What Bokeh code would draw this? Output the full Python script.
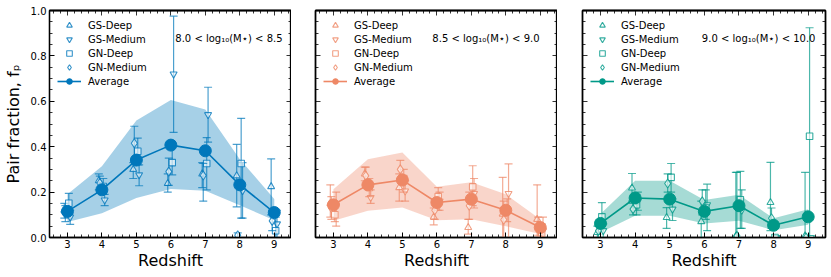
import numpy as np
from bokeh.plotting import figure
from bokeh.models import (LinearAxis, SingleIntervalTicker, FixedTicker, Range1d, Legend,
                          LegendItem, Label, PrintfTickFormatter)
from bokeh.layouts import row
from bokeh.embed import file_html
from bokeh.resources import INLINE

# ---------------- data ----------------
redshift = [3, 4, 5, 6, 7, 8, 9]
surveys = ["GS-Deep", "GS-Medium", "GN-Deep", "GN-Medium"]
mass_bins = ["8.0 < log₁₀(M⋆) < 8.5", "8.5 < log₁₀(M⋆) < 9.0", "9.0 < log₁₀(M⋆) < 10.0"]
colors = ["#0077BB", "#EE8866", "#009988"]

# panel 1 : 8.0 - 8.5
p1_avg = [0.115, 0.21, 0.341, 0.407, 0.382, 0.232, 0.11]
p1_hi = [0.19, 0.314, 0.515, 0.606, 0.564, 0.345, 0.17]
p1_lo = [0.068, 0.107, 0.174, 0.214, 0.206, 0.142, 0.076]
p1_gsd = [0.12, 0.25, 0.30, 0.238, 0.28, 0.272, 0.224]
p1_gsd_lo = [0.085, 0.21, 0.26, 0.20, 0.22, 0.135, 0.10]
p1_gsd_hi = [0.15, 0.28, 0.33, 0.28, 0.33, 0.41, 0.346]
p1_gsm = [0.09, 0.165, 0.276, 0.72, 0.541, 0.206, 0.06]
p1_gsm_lo = [0.058, 0.14, 0.228, 0.463, 0.42, 0.085, 0.0]
p1_gsm_hi = [0.12, 0.19, 0.32, 0.975, 0.662, 0.33, 0.12]
p1_gnd = [0.151, 0.225, 0.38, 0.33, 0.326, 0.326, 0.03]
p1_gnd_lo = [0.11, 0.19, 0.32, 0.276, 0.21, 0.085, 0.0]
p1_gnd_hi = [0.194, 0.26, 0.438, 0.397, 0.44, 0.525, 0.09]
p1_gnm = [0.107, 0.24, 0.415, 0.29, 0.273, 0.01, 0.073]
p1_gnm_lo = [0.07, 0.20, 0.34, 0.23, 0.16, 0.0, 0.03]
p1_gnm_hi = [0.14, 0.27, 0.49, 0.35, 0.326, 0.02, 0.12]

# panel 2 : 8.5 - 9.0
p2_avg = [0.144, 0.232, 0.253, 0.154, 0.169, 0.12, 0.044]
p2_hi = [0.213, 0.345, 0.375, 0.224, 0.243, 0.19, 0.08]
p2_lo = [0.074, 0.118, 0.132, 0.076, 0.08, 0.05, 0.015]
p2_gsd = [0.15, 0.28, 0.22, 0.09, 0.044, 0.103, 0.08]
p2_gsd_lo = [0.09, 0.25, 0.16, 0.056, 0.015, 0.0, 0.0]
p2_gsd_hi = [0.232, 0.31, 0.28, 0.13, 0.08, 0.265, 0.232]
p2_gsm = [0.14, 0.176, 0.205, 0.16, 0.194, 0.194, 0.03]
p2_gsm_lo = [0.05, 0.15, 0.16, 0.12, 0.13, 0.0, 0.0]
p2_gsm_hi = [0.20, 0.21, 0.25, 0.20, 0.26, 0.324, 0.09]
p2_gnd = [0.10, 0.22, 0.26, 0.18, 0.223, 0.12, 0.02]
p2_gnd_lo = [0.07, 0.18, 0.20, 0.12, 0.14, 0.07, 0.0]
p2_gnd_hi = [0.14, 0.26, 0.30, 0.22, 0.316, 0.17, 0.06]
p2_gnm = [0.13, 0.272, 0.30, 0.12, 0.14, 0.078, 0.05]
p2_gnm_lo = [0.08, 0.23, 0.26, 0.08, 0.08, 0.0, 0.01]
p2_gnm_hi = [0.18, 0.31, 0.34, 0.16, 0.20, 0.16, 0.09]

# panel 3 : 9.0 - 10.0
p3_avg = [0.062, 0.174, 0.169, 0.115, 0.14, 0.054, 0.091]
p3_hi = [0.103, 0.25, 0.25, 0.165, 0.188, 0.085, 0.125]
p3_lo = [0.022, 0.096, 0.096, 0.062, 0.074, 0.032, 0.056]
p3_gsd = [0.022, 0.218, 0.088, 0.07, 0.005, 0.154, 0.007]
p3_gsd_lo = [0.0, 0.16, 0.04, 0.0, 0.0, 0.03, 0.0]
p3_gsd_hi = [0.05, 0.282, 0.132, 0.16, 0.287, 0.331, 0.287]
p3_gsm = [0.03, 0.16, 0.125, 0.144, 0.12, 0.0, 0.0]
p3_gsm_lo = [0.0, 0.12, 0.075, 0.03, 0.04, 0.0, 0.0]
p3_gsm_hi = [0.06, 0.20, 0.17, 0.235, 0.21, 0.0, 0.0]
p3_gnd = [0.091, 0.144, 0.265, 0.13, 0.166, 0.0, 0.446]
p3_gnd_lo = [0.05, 0.10, 0.20, 0.08, 0.04, 0.0, 0.0]
p3_gnd_hi = [0.154, 0.19, 0.326, 0.21, 0.291, 0.0, 0.924]
p3_gnm = [0.03, 0.125, 0.238, 0.159, 0.007, 0.085, 0.0]
p3_gnm_lo = [0.0, 0.10, 0.20, 0.10, 0.0, 0.04, 0.0]
p3_gnm_hi = [0.05, 0.15, 0.28, 0.21, 0.287, 0.13, 0.0]

panels = [
    dict(avg=p1_avg, hi=p1_hi, lo=p1_lo,
         pts=[(p1_gsd, p1_gsd_lo, p1_gsd_hi), (p1_gsm, p1_gsm_lo, p1_gsm_hi),
              (p1_gnd, p1_gnd_lo, p1_gnd_hi), (p1_gnm, p1_gnm_lo, p1_gnm_hi)]),
    dict(avg=p2_avg, hi=p2_hi, lo=p2_lo,
         pts=[(p2_gsd, p2_gsd_lo, p2_gsd_hi), (p2_gsm, p2_gsm_lo, p2_gsm_hi),
              (p2_gnd, p2_gnd_lo, p2_gnd_hi), (p2_gnm, p2_gnm_lo, p2_gnm_hi)]),
    dict(avg=p3_avg, hi=p3_hi, lo=p3_lo,
         pts=[(p3_gsd, p3_gsd_lo, p3_gsd_hi), (p3_gsm, p3_gsm_lo, p3_gsm_hi),
              (p3_gnd, p3_gnd_lo, p3_gnd_hi), (p3_gnm, p3_gnm_lo, p3_gnm_hi)]),
]

# ---------------- style ----------------
FONT = "DejaVu Sans"
markers = ["triangle", "inverted_triangle", "square", "diamond"]
msizes = [7, 7, 6.5, 9]
x_offsets = [-0.09, 0.08, 0.04, -0.06]
label_x = [9.24, 8.98, 9.21]
XR = (2.48, 9.5)

widths = [291, 266, 273]
borders_left = [49, 24, 25]
borders_right = [0, 0, 5]
H = 276

x_major = [float(v) for v in range(3, 10)]
x_minor = [round(v, 2) for v in np.arange(2.6, 9.45, 0.2) if abs(v - round(v)) > 1e-6]
y_major = [round(v, 2) for v in np.arange(0, 1.001, 0.2)]
y_minor = [round(v, 2) for v in np.arange(0.05, 1.0, 0.05) if round(v, 2) not in y_major]


def base_style(ax):
    ax.axis_line_width = 1.3
    ax.axis_line_color = "black"
    ax.major_tick_line_color = "black"
    ax.minor_tick_line_color = "black"
    ax.major_tick_line_width = 1
    ax.minor_tick_line_width = 0.8
    ax.major_tick_in = 5
    ax.major_tick_out = 0
    ax.minor_tick_in = 3
    ax.minor_tick_out = 0


def label_axis(ax, xaxis):
    base_style(ax)
    ax.ticker = SingleIntervalTicker(interval=1, num_minor_ticks=5) if xaxis else \
        SingleIntervalTicker(interval=0.2, num_minor_ticks=4)
    if not xaxis:
        ax.formatter = PrintfTickFormatter(format="%.1f")
    ax.major_label_text_font = FONT
    ax.major_label_text_color = "black"
    ax.major_label_text_font_size = "10px"
    ax.major_label_standoff = 3 if not xaxis else 2


def tick_axis(positions, length):
    ax = LinearAxis(ticker=FixedTicker(ticks=[], minor_ticks=positions))
    base_style(ax)
    ax.minor_tick_in = length
    ax.major_label_standoff = 0
    return ax


figs = []
for i, pan in enumerate(panels):
    c = colors[i]
    p = figure(width=widths[i], height=H, output_backend="svg", toolbar_location=None,
               x_range=Range1d(*XR), y_range=Range1d(0, 1),
               y_axis_location="left" if i == 0 else None,
               min_border_left=borders_left[i], min_border_right=borders_right[i],
               min_border_top=10, min_border_bottom=39)
    p.grid.visible = False
    p.outline_line_color = "black"
    p.outline_line_width = 1.3
    p.background_fill_color = "white"
    p.border_fill_color = "white"

    label_axis(p.xaxis[0], True)
    p.xaxis.axis_label = "Redshift"
    p.xaxis.axis_label_text_font = FONT
    p.xaxis.axis_label_text_font_size = "16px"
    p.xaxis.axis_label_text_font_style = "normal"
    p.xaxis.axis_label_text_color = "black"
    p.xaxis.axis_label_standoff = 0
    if i == 0:
        label_axis(p.yaxis[0], False)
        p.yaxis.axis_label = "Pair fraction, fₚ"
        p.yaxis.axis_label_text_font = FONT
        p.yaxis.axis_label_text_font_size = "16px"
        p.yaxis.axis_label_text_font_style = "normal"
        p.yaxis.axis_label_text_color = "black"
        p.yaxis.axis_label_standoff = 5
    else:
        p.add_layout(tick_axis(y_major, 5), "left")
        p.add_layout(tick_axis(y_minor, 3), "left")
    p.add_layout(tick_axis(x_major, 5), "above")
    p.add_layout(tick_axis(x_minor, 3), "above")
    p.add_layout(tick_axis(y_major, 5), "right")
    p.add_layout(tick_axis(y_minor, 3), "right")

    # band
    p.varea(x=redshift, y1=pan["lo"], y2=pan["hi"], fill_color=c, fill_alpha=0.35)

    items = []
    for k, (vals, los, his) in enumerate(pan["pts"]):
        xs = [z + x_offsets[k] for z in redshift]
        p.segment(x0=xs, y0=los, x1=xs, y1=his, line_color=c, line_width=1.2, line_alpha=0.7)
        p.scatter(x=xs, y=los, marker="dash", size=8, line_color=c, line_width=1.2, line_alpha=0.7)
        p.scatter(x=xs, y=his, marker="dash", size=8, line_color=c, line_width=1.2, line_alpha=0.7)
        r = p.scatter(x=xs, y=vals, marker=markers[k], size=msizes[k], line_color=c,
                      line_width=1.1, line_alpha=0.8, fill_color="white", fill_alpha=0.6)
        items.append(LegendItem(label=surveys[k], renderers=[r]))

    ln = p.line(x=redshift, y=pan["avg"], line_color=c, line_width=1.6)
    mk = p.scatter(x=redshift, y=pan["avg"], marker="circle", size=12, fill_color=c, line_color=c)
    items.append(LegendItem(label="Average", renderers=[ln, mk]))

    leg = Legend(items=items, location="top_left")
    leg.border_line_alpha = 0
    leg.background_fill_alpha = 0
    leg.label_text_font = FONT
    leg.label_text_font_size = "10px"
    leg.label_text_color = "black"
    leg.label_height = 14
    leg.glyph_height = 14
    leg.glyph_width = 24
    leg.spacing = 0
    leg.padding = 3
    leg.margin = 5
    leg.label_standoff = 7
    p.add_layout(leg)

    p.add_layout(Label(x=label_x[i], y=0.877, text=mass_bins[i], text_align="right",
                       text_baseline="middle", text_font=FONT, text_font_size="10px",
                       text_color="black"))
    figs.append(p)

layout = row(*figs, spacing=0)
open("out.html", "w").write(file_html(layout, INLINE))
